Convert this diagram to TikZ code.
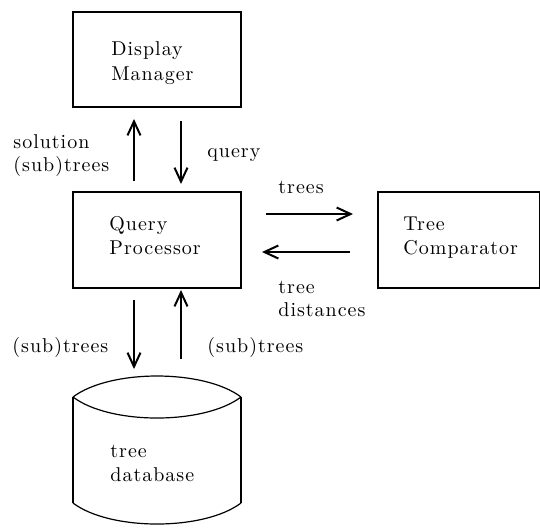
\documentclass[tikz,border=0pt]{standalone}
\usepackage{fontspec}
\setmainfont{Latin Modern Roman}[LetterSpace=5]
\usetikzlibrary{arrows.meta}
\begin{document}
\begin{tikzpicture}[x=0.5pt,y=-0.5pt,
  box/.style={draw,line width=0.6pt},
  lbl/.style={anchor=base west,inner sep=0pt,align=left,font=\fontsize{10}{12}\selectfont},
  flow/.style={line width=1pt,-{Straight Barb[length=7pt,width=6.5pt]}}]
\useasboundingbox (0,0) rectangle (540,527);
% boxes
\draw[box] (73,12) rectangle (241,107);
\draw[box] (73,192) rectangle (241,288);
\draw[box] (378,192) rectangle (539.5,288);
% cylinder
\draw[box] (73,397) .. controls (110,369) and (204,369) .. (241,397);
\draw[box] (73,397) .. controls (110,425) and (204,425) .. (241,397);
\draw[box] (73,397) -- (73,503);
\draw[box] (241,397) -- (241,503);
\draw[box] (73,503) .. controls (110,531) and (204,531) .. (241,503);
% texts
\node[lbl] (t1) at (111,55) {Display};
\node[lbl] (t2) at (111,80) {Manager};
\node[lbl] (t3) at (109,230) {Query};
\node[lbl] (t4) at (109,254) {Processor};
\node[lbl] (t5) at (403,230) {Tree};
\node[lbl] (t6) at (403,254) {Comparator};
\node[lbl] (t7) at (110,457) {tree};
\node[lbl] (t8) at (110,481) {database};
\node[lbl] (l1) at (13,148) {solution};
\node[lbl] (l2) at (13,171) {(sub)trees};
\node[lbl] (l3) at (207,157) {query};
\node[lbl] (l4) at (278,193) {trees};
\node[lbl] (l5) at (278,293) {tree};
\node[lbl] (l6) at (278,316) {distances};
\node[lbl] (l7) at (12,352) {(sub)trees};
\node[lbl] (l8) at (207,352) {(sub)trees};
% arrows
\coordinate (a1s) at (134,181); \coordinate (a1e) at (134,119);
\coordinate (a2s) at (181,121); \coordinate (a2e) at (181,184);
\coordinate (a3s) at (266,214); \coordinate (a3e) at (353,214);
\coordinate (a4s) at (350,252); \coordinate (a4e) at (262,252);
\coordinate (a5s) at (134,300); \coordinate (a5e) at (134,369);
\coordinate (a6s) at (181,359); \coordinate (a6e) at (181,290);
\draw[flow] (a1s) -- (a1e);
\draw[flow] (a2s) -- (a2e);
\draw[flow] (a3s) -- (a3e);
\draw[flow] (a4s) -- (a4e);
\draw[flow] (a5s) -- (a5e);
\draw[flow] (a6s) -- (a6e);
\end{tikzpicture}
\end{document}
